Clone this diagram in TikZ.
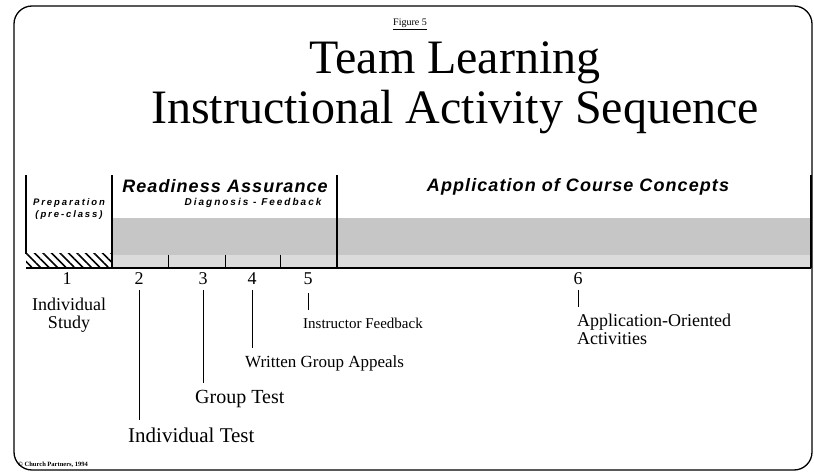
\documentclass[tikz,border=0pt]{standalone}
\usepackage{fontspec}
\setmainfont{Liberation Serif}
\newfontfamily\headfont[LetterSpace=6]{Liberation Sans}
\newfontfamily\subfont[LetterSpace=20]{Liberation Sans}
\usetikzlibrary{patterns.meta}

\tikzset{
  phase/.style={font=\headfont\bfseries\itshape\fontsize{18}{18}\selectfont, inner sep=0pt},
  subphase/.style={font=\subfont\bfseries\itshape\fontsize{9.5}{11.5}\selectfont, inner sep=0pt, align=center},
  stepnum/.style={font=\fontsize{18}{18}\selectfont, inner sep=0pt, anchor=base},
  steplabel/.style={font=\fontsize{18}{18}\selectfont, inner sep=0pt, anchor=base west, align=left},
  leader/.style={line width=1pt, shorten >=7pt},
  divider/.style={line width=1.2pt},
}

\begin{document}
\begin{tikzpicture}[x=1pt,y=-1pt]
\useasboundingbox (0,0) rectangle (814,473);

% Frame and title
\draw[line width=1.3pt, rounded corners=18pt] (14,6) rectangle (812,470);
\node[font=\fontsize{10}{10}\selectfont, inner sep=0pt] (fig) at (410,24) {\underline{Figure 5}};
\node[font=\fontsize{48}{48}\selectfont, inner sep=0pt] (title1) at (455,63) {Team Learning};
\node[font=\fontsize{48}{48}\selectfont, inner sep=0pt] (title2) at (455,112) {Instructional Activity Sequence};

% Time band
\fill[gray!45] (112,218) rectangle (811,255);
\fill[gray!28] (112,255) rectangle (811,268);
\pattern[pattern={Lines[angle=-45,distance=6pt,line width=1.6pt]}] (26,254) rectangle (112,268);
\draw[divider] (26,175) -- (26,254);
\draw[divider] (112,175) -- (112,268);
\draw[divider] (337,175) -- (337,268);
\draw[divider] (811,175) -- (811,268);
\foreach \x in {168,225,280} {
  \draw[line width=1pt] (\x,255) -- (\x,268);
}
\draw[line width=1.6pt] (26,268) -- (811,268);

% Phases
\node[subphase] (prep) at (69,209) {Preparation\\(pre-class)};
\node[phase] (ready) at (225,186) {Readiness Assurance};
\node[subphase, font=\subfont\bfseries\itshape\fontsize{10}{10}\selectfont] (diag) at (253,203) {Diagnosis - Feedback};
\node[phase] (apply) at (578,187) {Application of Course Concepts};

% Steps
\node[stepnum] (n1) at (67,284) {1};
\node[stepnum] (n2) at (139,284) {2};
\node[stepnum] (n3) at (203,284) {3};
\node[stepnum] (n4) at (252,284) {4};
\node[stepnum] (n5) at (308,284) {5};
\node[stepnum] (n6) at (578,284) {6};

\node[steplabel, anchor=north, align=center] (s1) at (69,298) {Individual\\Study};
\node[steplabel, font=\fontsize{21}{21}\selectfont] (s2) at (128,442) {Individual Test};
\node[steplabel, font=\fontsize{20}{20}\selectfont] (s3) at (195,403) {Group Test};
\node[steplabel, font=\fontsize{17}{17}\selectfont] (s4) at (245,367) {Written Group Appeals};
\node[steplabel, font=\fontsize{15}{15}\selectfont] (s5) at (303,328) {Instructor Feedback};
\node[steplabel, anchor=north west] (s6) at (577,314) {Application-Oriented\\Activities};

\draw[leader] ([yshift=-6pt]n2.south) -- (n2.south |- s2.north);
\draw[leader] ([yshift=-6pt]n3.south) -- (n3.south |- s3.north);
\draw[leader] ([yshift=-6pt]n4.south) -- (n4.south |- s4.north);
\draw[leader] ([yshift=-9pt]n5.south) -- (n5.south |- s5.north);
\draw[leader] ([yshift=-6pt]n6.south) -- (n6.south |- s6.north);

\node[font=\bfseries\fontsize{6.5}{6.5}\selectfont, inner sep=0pt, anchor=base west] (copy) at (18,466) {\textcopyright{} Church Partners, 1994};

\end{tikzpicture}
\end{document}
